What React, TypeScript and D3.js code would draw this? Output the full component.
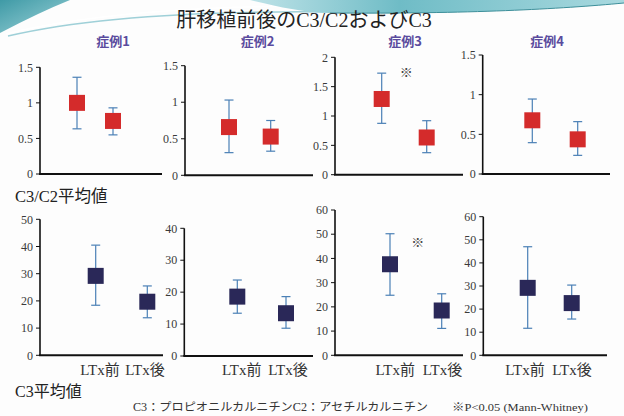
import React from "react";
import * as d3 from "d3";

// ---------- data ----------
const cases = ["症例1", "症例2", "症例3", "症例4"];
const categories = ["LTx前", "LTx後"];

// C3/C2 mean and error-bar ends (per case: [LTx前, LTx後])
const ratioMean = [[1.0, 0.746], [0.66, 0.53], [1.29, 0.634], [0.677, 0.437]];
const ratioLow = [[0.635, 0.55], [0.31, 0.33], [0.875, 0.375], [0.395, 0.235]];
const ratioHigh = [[1.36, 0.93], [1.03, 0.75], [1.73, 0.92], [0.945, 0.66]];
const ratioMax = [1.5, 1.5, 2, 1.5];
const ratioStep = 0.5;

// C3 mean and error-bar ends
const c3Mean = [[29.2, 19.7], [18.6, 13.4], [37.6, 18.5], [29.2, 22.6]];
const c3Low = [[18.4, 13.8], [13.4, 8.7], [24.8, 11.1], [11.7, 15.7]];
const c3High = [[40.5, 25.5], [23.8, 18.6], [50.2, 25.4], [47, 30.4]];
const c3Max = [50, 40, 60, 60];
const c3Step = 10;

// significance marks (value at which the ※ sits, null = none)
const ratioSig = [null, null, 1.74, null];
const c3Sig = [null, null, 46.5, null];

const titleText = "肝移植前後のC3/C2およびC3";
const ratioLabel = "C3/C2平均値";
const c3Label = "C3平均値";
const footnote = "C3：プロピオニルカルニチンC2：アセチルカルニチン";
const sigNote = "※P<0.05 (Mann-Whitney)";

// ---------- layout ----------
const topLayout = [
  { ax: 40, xEnd: 162, c: [77, 113], yTop: 67.3, y0: 174 },
  { ax: 185, xEnd: 313, c: [229, 270.7], yTop: 65.7, y0: 175.3 },
  { ax: 335, xEnd: 463, c: [381.7, 426.7], yTop: 57.3, y0: 174.7 },
  { ax: 482.7, xEnd: 610, c: [532.3, 577.7], yTop: 55, y0: 174 },
];
const botLayout = [
  { ax: 40, xEnd: 163, c: [95.7, 147.3], yTop: 219.3, y0: 355.3 },
  { ax: 184.3, xEnd: 313, c: [237.3, 286], yTop: 228.3, y0: 356 },
  { ax: 335, xEnd: 463, c: [390, 441.7], yTop: 210, y0: 355.3 },
  { ax: 483.3, xEnd: 607, c: [527.7, 571.7], yTop: 216.7, y0: 355.3 },
];
// label centres under the bottom panels
const catLabelX = [[100, 145], [241.7, 288], [395.3, 442.5], [525, 572]];
const caseLabelX = [113, 257.5, 405, 547];

const SERIF = "'Liberation Serif', 'Noto Sans CJK JP', serif";
const GOTHIC = "'Noto Sans CJK JP', sans-serif";
const MARK = 16;

type Lay = { ax: number; xEnd: number; c: number[]; yTop: number; y0: number };

function Panel(props: {
  lay: Lay; max: number; step: number; mean: number[]; low: number[]; high: number[];
  fill: string; sig: number | null; labelX: number[] | null; fmt: (n: number) => string;
}) {
  const { lay, max, step, mean, low, high, fill, sig, labelX, fmt } = props;
  const y = d3.scaleLinear().domain([0, max]).range([lay.y0, lay.yTop]);
  const x = d3.scalePoint<string>().domain(categories).range([lay.c[0], lay.c[1]]);
  const ticks = d3.range(0, max + step / 2, step);
  return (
    <g>
      {/* y axis */}
      <line x1={lay.ax} x2={lay.ax} y1={lay.yTop} y2={lay.y0} stroke="#111" strokeWidth={1.6} />
      {ticks.map((t) => (
        <g key={t}>
          <line x1={lay.ax - 4} x2={lay.ax} y1={y(t)} y2={y(t)} stroke="#111" strokeWidth={1} />
          <text x={lay.ax - 7} y={y(t)} dy="0.35em" textAnchor="end" fontSize={12}
            fontFamily={SERIF} fill="#3a3a3a">{fmt(t)}</text>
        </g>
      ))}
      {/* x axis */}
      <line x1={lay.ax - 1} x2={lay.xEnd} y1={lay.y0} y2={lay.y0} stroke="#111" strokeWidth={2} />
      {categories.map((c, i) => {
        const cx = x(c) as number;
        return (
          <g key={c}>
            <line x1={cx} x2={cx} y1={y(low[i])} y2={y(high[i])} stroke="#4b80b6" strokeWidth={1.2} />
            <line x1={cx - 4.5} x2={cx + 4.5} y1={y(high[i])} y2={y(high[i])} stroke="#4b80b6" strokeWidth={1.2} />
            <line x1={cx - 4.5} x2={cx + 4.5} y1={y(low[i])} y2={y(low[i])} stroke="#4b80b6" strokeWidth={1.2} />
            <rect x={cx - MARK / 2} y={y(mean[i]) - MARK / 2} width={MARK} height={MARK} fill={fill} />
            {labelX && (
              <text x={labelX[i]} y={375} textAnchor="middle" fontSize={15}
                fontFamily={SERIF} fill="#333">{c}</text>
            )}
          </g>
        );
      })}
      {sig !== null && (
        <text x={((x(categories[0]) as number) + (x(categories[1]) as number)) / 2 + 2} y={y(sig)}
          dy="0.35em" textAnchor="middle" fontSize={13} fontFamily={GOTHIC} fill="#444">※</text>
      )}
    </g>
  );
}

export default function App() {
  const fmtRatio = d3.format("");
  const fmtC3 = d3.format("d");
  return (
    <svg width={624} height={416} style={{ position: "absolute", left: 0, top: 0, background: "#fdfdfd" }}>
      <defs>
        <linearGradient id="tealL" x1="0" y1="0" x2="1" y2="1">
          <stop offset="0" stopColor="#3f9aa6" />
          <stop offset="1" stopColor="#9fd4da" />
        </linearGradient>
        <linearGradient id="tealR" x1="0" y1="0" x2="1" y2="0">
          <stop offset="0" stopColor="#bfe3e8" />
          <stop offset="0.4" stopColor="#6fbcc6" />
          <stop offset="1" stopColor="#a9d9df" />
        </linearGradient>
      </defs>
      <rect width={624} height={416} fill="#fdfdfd" />
      {/* decorative swoosh */}
      <path d="M0,0 L70,0 Q40,12 0,33 Z" fill="url(#tealL)" />
      <path d="M8,36 Q120,10 330,12" fill="none" stroke="#9fd0d8" strokeWidth={1.5} />
      <path d="M6,34 Q110,8 300,6" fill="none" stroke="#ffffff" strokeWidth={1.5} />
      <path d="M250,0 L624,0 L624,3 C560,9 470,14 330,13 C300,12 280,7 250,0 Z" fill="url(#tealR)" />
      <path d="M330,13 C470,14 560,9 624,3" fill="none" stroke="#3d8f9a" strokeWidth={1} />

      <text x={304} y={27} textAnchor="middle" fontSize={20} fontFamily={SERIF} fill="#222">{titleText}</text>
      {cases.map((c, i) => (
        <text key={c} x={caseLabelX[i]} y={46} textAnchor="middle" fontSize={13} fontWeight="bold"
          fontFamily={GOTHIC} fill="#5a4b9e">{c}</text>
      ))}

      {cases.map((c, i) => (
        <Panel key={"r" + c} lay={topLayout[i]} max={ratioMax[i]} step={ratioStep}
          mean={ratioMean[i]} low={ratioLow[i]} high={ratioHigh[i]} fill="#d42b2b"
          sig={ratioSig[i]} labelX={null} fmt={fmtRatio} />
      ))}
      {cases.map((c, i) => (
        <Panel key={"c" + c} lay={botLayout[i]} max={c3Max[i]} step={c3Step}
          mean={c3Mean[i]} low={c3Low[i]} high={c3High[i]} fill="#2a2858"
          sig={c3Sig[i]} labelX={catLabelX[i]} fmt={fmtC3} />
      ))}

      <text x={15} y={202} fontSize={16.5} fontFamily={SERIF} fill="#222">{ratioLabel}</text>
      <text x={15} y={397} fontSize={16} fontFamily={SERIF} fill="#222">{c3Label}</text>
      <text x={133} y={411} fontSize={11.5} fontFamily={SERIF} fill="#333"
        textLength={295} lengthAdjust="spacingAndGlyphs">{footnote}</text>
      <text x={452} y={411} fontSize={11} fontFamily={SERIF} fill="#333"
        textLength={136} lengthAdjust="spacingAndGlyphs">{sigNote}</text>
    </svg>
  );
}
